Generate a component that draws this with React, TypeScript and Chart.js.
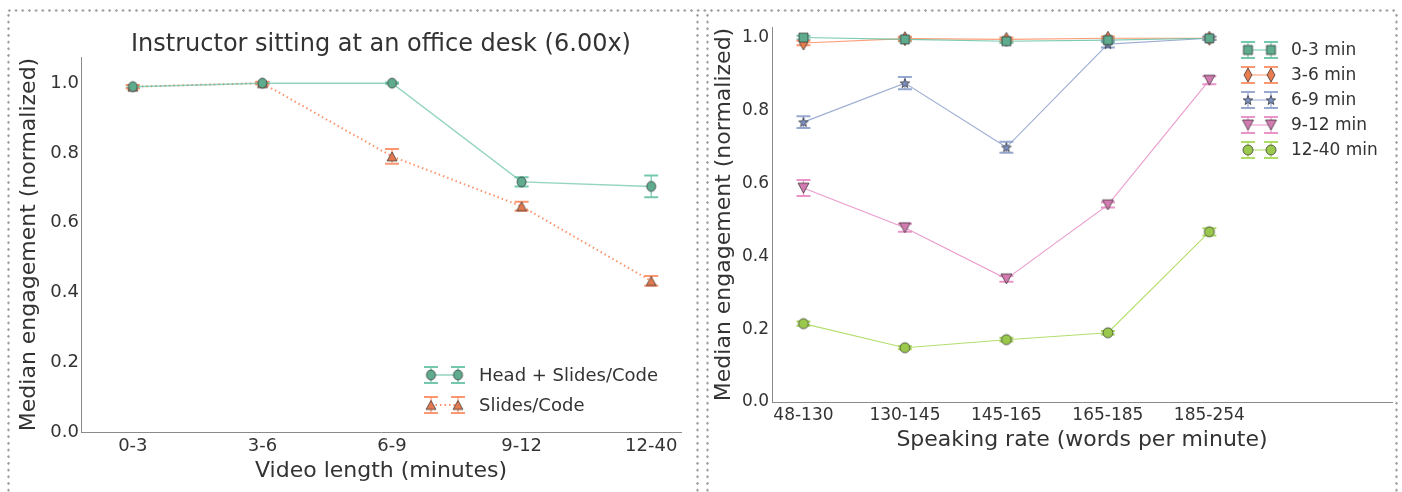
import React, { useEffect, useRef } from 'react';
import { Chart, registerables } from 'chart.js';

Chart.register(...registerables);

const FONT = 'DejaVu Sans';
const TEXT = '#333333';
const AXIS = '#8a8a8a';

// ---------- Left chart data ----------
const LEFT_TITLE = 'Instructor sitting at an office desk (6.00x)';
const LEFT_CATEGORIES = ['0-3', '3-6', '6-9', '9-12', '12-40'];
const HEAD_SLIDES = [0.99, 1.0, 1.0, 0.717, 0.704];
const HEAD_SLIDES_ERR = [0.004, 0.003, 0.002, 0.013, 0.031];
const SLIDES_CODE = [0.99, 1.0, 0.79, 0.647, 0.433];
const SLIDES_CODE_ERR = [0.005, 0.004, 0.021, 0.013, 0.014];
const LEFT_Y_TICKS = [0, 0.2, 0.4, 0.6, 0.8, 1.0];

// ---------- Right chart data ----------
const RIGHT_CATEGORIES = ['48-130', '130-145', '145-165', '165-185', '185-254'];
const LEN_0_3 = [1.0, 0.995, 0.99, 0.993, 0.998];
const LEN_0_3_ERR = [0.005, 0.005, 0.005, 0.005, 0.004];
const LEN_3_6 = [0.985, 0.997, 0.995, 0.998, 0.998];
const LEN_3_6_ERR = [0.006, 0.005, 0.005, 0.005, 0.004];
const LEN_6_9 = [0.768, 0.875, 0.699, 0.982, 0.998];
const LEN_6_9_ERR = [0.016, 0.017, 0.015, 0.009, 0.005];
const LEN_9_12 = [0.587, 0.478, 0.338, 0.541, 0.883];
const LEN_9_12_ERR = [0.022, 0.011, 0.008, 0.007, 0.011];
const LEN_12_40 = [0.215, 0.149, 0.171, 0.19, 0.467];
const LEN_12_40_ERR = [0.006, 0.004, 0.005, 0.005, 0.01];
const RIGHT_Y_TICKS = [0, 0.2, 0.4, 0.6, 0.8, 1.0];

type Shape = 'circle' | 'square' | 'triUp' | 'triDown' | 'diamond' | 'star';

function makeMarker(shape: Shape, fill: string, w: number, h: number): HTMLCanvasElement {
  const pad = 2;
  const c = document.createElement('canvas');
  c.width = Math.ceil(w + pad * 2);
  c.height = Math.ceil(h + pad * 2);
  const ctx = c.getContext('2d')!;
  const cx = c.width / 2;
  const cy = c.height / 2;
  ctx.beginPath();
  if (shape === 'circle') {
    ctx.ellipse(cx, cy, w / 2, h / 2, 0, 0, Math.PI * 2);
  } else if (shape === 'square') {
    ctx.rect(cx - w / 2, cy - h / 2, w, h);
  } else if (shape === 'triUp') {
    ctx.moveTo(cx, cy - h / 2);
    ctx.lineTo(cx + w / 2, cy + h / 2);
    ctx.lineTo(cx - w / 2, cy + h / 2);
    ctx.closePath();
  } else if (shape === 'triDown') {
    ctx.moveTo(cx, cy + h / 2);
    ctx.lineTo(cx + w / 2, cy - h / 2);
    ctx.lineTo(cx - w / 2, cy - h / 2);
    ctx.closePath();
  } else if (shape === 'diamond') {
    ctx.moveTo(cx, cy - h / 2);
    ctx.lineTo(cx + w / 2, cy);
    ctx.lineTo(cx, cy + h / 2);
    ctx.lineTo(cx - w / 2, cy);
    ctx.closePath();
  } else if (shape === 'star') {
    const ro = w / 2;
    const ri = ro * 0.42;
    for (let i = 0; i < 10; i++) {
      const r = i % 2 === 0 ? ro : ri;
      const a = -Math.PI / 2 + (i * Math.PI) / 5;
      const px = cx + r * Math.cos(a);
      const py = cy + r * Math.sin(a) + 0.5;
      if (i === 0) ctx.moveTo(px, py);
      else ctx.lineTo(px, py);
    }
    ctx.closePath();
  }
  ctx.fillStyle = fill;
  ctx.fill();
  ctx.lineWidth = 0.7;
  ctx.strokeStyle = '#2a2a2a';
  ctx.stroke();
  return c;
}

const errorBarPlugin = {
  id: 'errbars',
  beforeDatasetsDraw(chart: any) {
    const ctx = chart.ctx;
    const xs = chart.scales.x;
    const ys = chart.scales.y;
    chart.data.datasets.forEach((ds: any) => {
      if (!ds.errs) return;
      ctx.save();
      ctx.strokeStyle = ds.errColor;
      const cap = ds.capHalf;
      ds.data.forEach((p: any, i: number) => {
        const x = xs.getPixelForValue(p.x);
        const y1 = ys.getPixelForValue(p.y + ds.errs[i]);
        const y2 = ys.getPixelForValue(p.y - ds.errs[i]);
        ctx.beginPath();
        ctx.lineWidth = 1.2;
        ctx.moveTo(x, y1);
        ctx.lineTo(x, y2);
        ctx.stroke();
        ctx.beginPath();
        ctx.lineWidth = ds.errWidth;
        ctx.moveTo(x - cap, y1);
        ctx.lineTo(x + cap, y1);
        ctx.moveTo(x - cap, y2);
        ctx.lineTo(x + cap, y2);
        ctx.stroke();
      });
      ctx.restore();
    });
  },
};

function makeLegendPlugin(cfg: {
  m1: number;
  m2: number;
  textX: number;
  y0: number;
  dy: number;
  cap: number;
  errHalf: number;
  fontSize: number;
}) {
  return {
    id: 'customLegend',
    afterDraw(chart: any) {
      const ctx = chart.ctx;
      ctx.save();
      chart.data.datasets.forEach((ds: any, i: number) => {
        const y = cfg.y0 + i * cfg.dy;
        ctx.strokeStyle = ds.errColor;
        [cfg.m1, cfg.m2].forEach((mx) => {
          ctx.beginPath();
          ctx.lineWidth = 1.2;
          ctx.moveTo(mx, y - cfg.errHalf);
          ctx.lineTo(mx, y + cfg.errHalf);
          ctx.stroke();
          ctx.beginPath();
          ctx.lineWidth = ds.errWidth;
          ctx.moveTo(mx - cfg.cap, y - cfg.errHalf);
          ctx.lineTo(mx + cfg.cap, y - cfg.errHalf);
          ctx.moveTo(mx - cfg.cap, y + cfg.errHalf);
          ctx.lineTo(mx + cfg.cap, y + cfg.errHalf);
          ctx.stroke();
        });
        ctx.beginPath();
        ctx.strokeStyle = ds.borderColor;
        ctx.lineWidth = ds.borderWidth;
        ctx.setLineDash(ds.borderDash || []);
        ctx.moveTo(cfg.m1, y);
        ctx.lineTo(cfg.m2, y);
        ctx.stroke();
        ctx.setLineDash([]);
        const img = ds.pointStyle as HTMLCanvasElement;
        [cfg.m1, cfg.m2].forEach((mx) => {
          ctx.drawImage(img, mx - img.width / 2, y - img.height / 2);
        });
        ctx.fillStyle = TEXT;
        ctx.font = `${cfg.fontSize}px "${FONT}"`;
        ctx.textAlign = 'left';
        ctx.textBaseline = 'middle';
        ctx.fillText(ds.label, cfg.textX, y + 1);
      });
      ctx.restore();
    },
  };
}

const titlePlugin = {
  id: 'leftTitle',
  afterDraw(chart: any) {
    const ctx = chart.ctx;
    const a = chart.chartArea;
    ctx.save();
    ctx.fillStyle = TEXT;
    ctx.font = `24px "${FONT}"`;
    ctx.textAlign = 'center';
    ctx.textBaseline = 'alphabetic';
    ctx.fillText(LEFT_TITLE, (a.left + a.right) / 2, 50.5);
    ctx.restore();
  },
};

function pts(vals: number[]) {
  return vals.map((v, i) => ({ x: i, y: v }));
}

function axisCommon(cats: string[] | null, fontSize: number, padding: number) {
  return {
    grid: { display: false, drawTicks: false },
    border: { display: true, color: AXIS, width: 1 },
    ticks: {
      autoSkip: false,
      maxRotation: 0,
      minRotation: 0,
      padding,
      color: TEXT,
      font: { family: FONT, size: fontSize },
      callback: cats
        ? (v: any) => (cats[Math.round(v)] !== undefined ? cats[Math.round(v)] : '')
        : (v: any) => Number(v).toFixed(1),
    },
  };
}

function LeftChart() {
  const ref = useRef<HTMLCanvasElement>(null);
  useEffect(() => {
    const chart = new Chart(ref.current!, {
      type: 'line',
      data: {
        datasets: [
          {
            label: 'Head + Slides/Code',
            data: pts(HEAD_SLIDES),
            borderColor: 'rgba(102,194,165,0.7)',
            borderWidth: 1.5,
            pointStyle: makeMarker('circle', '#5fab8e', 9, 10),
            pointRadius: 5,
            tension: 0,
            errs: HEAD_SLIDES_ERR,
            errColor: 'rgba(102,194,165,0.9)',
            errWidth: 2,
            capHalf: 7,
          } as any,
          {
            label: 'Slides/Code',
            data: pts(SLIDES_CODE),
            borderColor: 'rgba(252,141,98,0.95)',
            borderWidth: 2,
            borderDash: [1.5, 3],
            pointStyle: makeMarker('triUp', '#e37a4f', 10, 9),
            pointRadius: 5,
            tension: 0,
            errs: SLIDES_CODE_ERR,
            errColor: 'rgba(252,141,98,0.9)',
            errWidth: 2,
            capHalf: 7,
          } as any,
        ],
      },
      options: {
        responsive: false,
        animation: false,
        devicePixelRatio: 1,
        events: [],
        layout: { padding: { top: 57, right: 19, left: 0, bottom: 0 } },
        plugins: { legend: { display: false }, tooltip: { enabled: false }, title: { display: false } },
        scales: {
          x: {
            type: 'linear',
            min: -0.4,
            max: 4.23,
            ...axisCommon(LEFT_CATEGORIES, 18, 4),
            afterBuildTicks: (s: any) => {
              s.ticks = LEFT_CATEGORIES.map((_, i) => ({ value: i }));
            },
            afterFit: (s: any) => {
              s.height = 60;
            },
            title: {
              display: true,
              text: 'Video length (minutes)',
              color: TEXT,
              font: { family: FONT, size: 22 },
              padding: { top: 0, bottom: 8 },
            },
          } as any,
          y: {
            type: 'linear',
            min: 0,
            max: 1.075,
            ...axisCommon(null, 18, 2),
            afterBuildTicks: (s: any) => {
              s.ticks = LEFT_Y_TICKS.map((v) => ({ value: v }));
            },
            afterFit: (s: any) => {
              s.width = 81;
            },
            title: {
              display: true,
              text: 'Median engagement (normalized)',
              color: TEXT,
              font: { family: FONT, size: 22 },
              padding: { top: 16, bottom: 0 },
            },
          } as any,
        },
      },
      plugins: [
        errorBarPlugin,
        titlePlugin,
        makeLegendPlugin({ m1: 431, m2: 458, textX: 479, y0: 375, dy: 30, cap: 7, errHalf: 8, fontSize: 18 }),
      ],
    });
    return () => chart.destroy();
  }, []);
  return <canvas ref={ref} width={700} height={492} style={{ display: 'block' }} />;
}

function RightChart() {
  const ref = useRef<HTMLCanvasElement>(null);
  useEffect(() => {
    const mk = (
      label: string,
      vals: number[],
      errs: number[],
      rgb: string,
      marker: HTMLCanvasElement
    ) =>
      ({
        label,
        data: pts(vals),
        borderColor: `rgba(${rgb},0.85)`,
        borderWidth: 1.1,
        pointStyle: marker,
        pointRadius: 5,
        tension: 0,
        errs,
        errColor: `rgba(${rgb},0.9)`,
        errWidth: 2,
        capHalf: 7,
      } as any);
    const chart = new Chart(ref.current!, {
      type: 'line',
      data: {
        datasets: [
          mk('0-3 min', LEN_0_3, LEN_0_3_ERR, '102,194,165', makeMarker('square', '#5fab8e', 9, 9)),
          mk('3-6 min', LEN_3_6, LEN_3_6_ERR, '252,141,98', makeMarker('diamond', '#e97c4f', 8, 14)),
          mk('6-9 min', LEN_6_9, LEN_6_9_ERR, '141,160,203', makeMarker('star', '#7d90c2', 10, 10)),
          mk('9-12 min', LEN_9_12, LEN_9_12_ERR, '231,138,195', makeMarker('triDown', '#d17bb0', 11, 10)),
          mk('12-40 min', LEN_12_40, LEN_12_40_ERR, '166,216,84', makeMarker('circle', '#99c84c', 10, 10)),
        ],
      },
      options: {
        responsive: false,
        animation: false,
        devicePixelRatio: 1,
        events: [],
        layout: { padding: { top: 27, right: 10, left: 0, bottom: 0 } },
        plugins: { legend: { display: false }, tooltip: { enabled: false }, title: { display: false } },
        scales: {
          x: {
            type: 'linear',
            min: -0.31,
            max: 5.8,
            ...axisCommon(RIGHT_CATEGORIES, 17, 3),
            afterBuildTicks: (s: any) => {
              s.ticks = RIGHT_CATEGORIES.map((_, i) => ({ value: i }));
            },
            afterFit: (s: any) => {
              s.height = 90;
            },
            title: {
              display: true,
              text: 'Speaking rate (words per minute)',
              color: TEXT,
              font: { family: FONT, size: 22 },
              padding: { top: 0, bottom: 39 },
            },
          } as any,
          y: {
            type: 'linear',
            min: 0,
            max: 1.029,
            ...axisCommon(null, 17, 3),
            afterBuildTicks: (s: any) => {
              s.ticks = RIGHT_Y_TICKS.map((v) => ({ value: v }));
            },
            afterFit: (s: any) => {
              s.width = 70;
            },
            title: {
              display: true,
              text: 'Median engagement (normalized)',
              color: TEXT,
              font: { family: FONT, size: 22 },
              padding: { top: 9, bottom: 0 },
            },
          } as any,
        },
      },
      plugins: [
        errorBarPlugin,
        makeLegendPlugin({ m1: 546, m2: 569, textX: 589, y0: 50, dy: 25, cap: 7, errHalf: 8, fontSize: 17 }),
      ],
    });
    return () => chart.destroy();
  }, []);
  return <canvas ref={ref} width={700} height={492} style={{ display: 'block' }} />;
}

function Dots(props: { x: number; y: number; w: number; h: number; vertical: boolean }) {
  const { x, y, w, h, vertical } = props;
  return (
    <div
      style={{
        position: 'absolute',
        left: x,
        top: y,
        width: w,
        height: h,
        backgroundImage: 'radial-gradient(circle at center, #9a9a9a 0.9px, rgba(255,255,255,0) 1.5px)',
        backgroundSize: vertical ? `${w}px 6.7px` : `6.7px ${h}px`,
        backgroundRepeat: 'repeat',
      }}
    />
  );
}

export default function App() {
  return (
    <div
      style={{
        position: 'absolute',
        left: 0,
        top: 0,
        width: 1402,
        height: 492,
        background: '#ffffff',
        overflow: 'hidden',
      }}
    >
      <div style={{ position: 'absolute', left: 0, top: 0 }}>
        <LeftChart />
      </div>
      <div style={{ position: 'absolute', left: 702, top: 0 }}>
        <RightChart />
      </div>
      <Dots x={6} y={9} w={1392} h={3} vertical={false} />
      <Dots x={7} y={12} w={3} h={480} vertical={true} />
      <Dots x={696} y={12} w={3} h={480} vertical={true} />
      <Dots x={705.5} y={12} w={3} h={480} vertical={true} />
      <Dots x={1395} y={12} w={3} h={480} vertical={true} />
    </div>
  );
}
